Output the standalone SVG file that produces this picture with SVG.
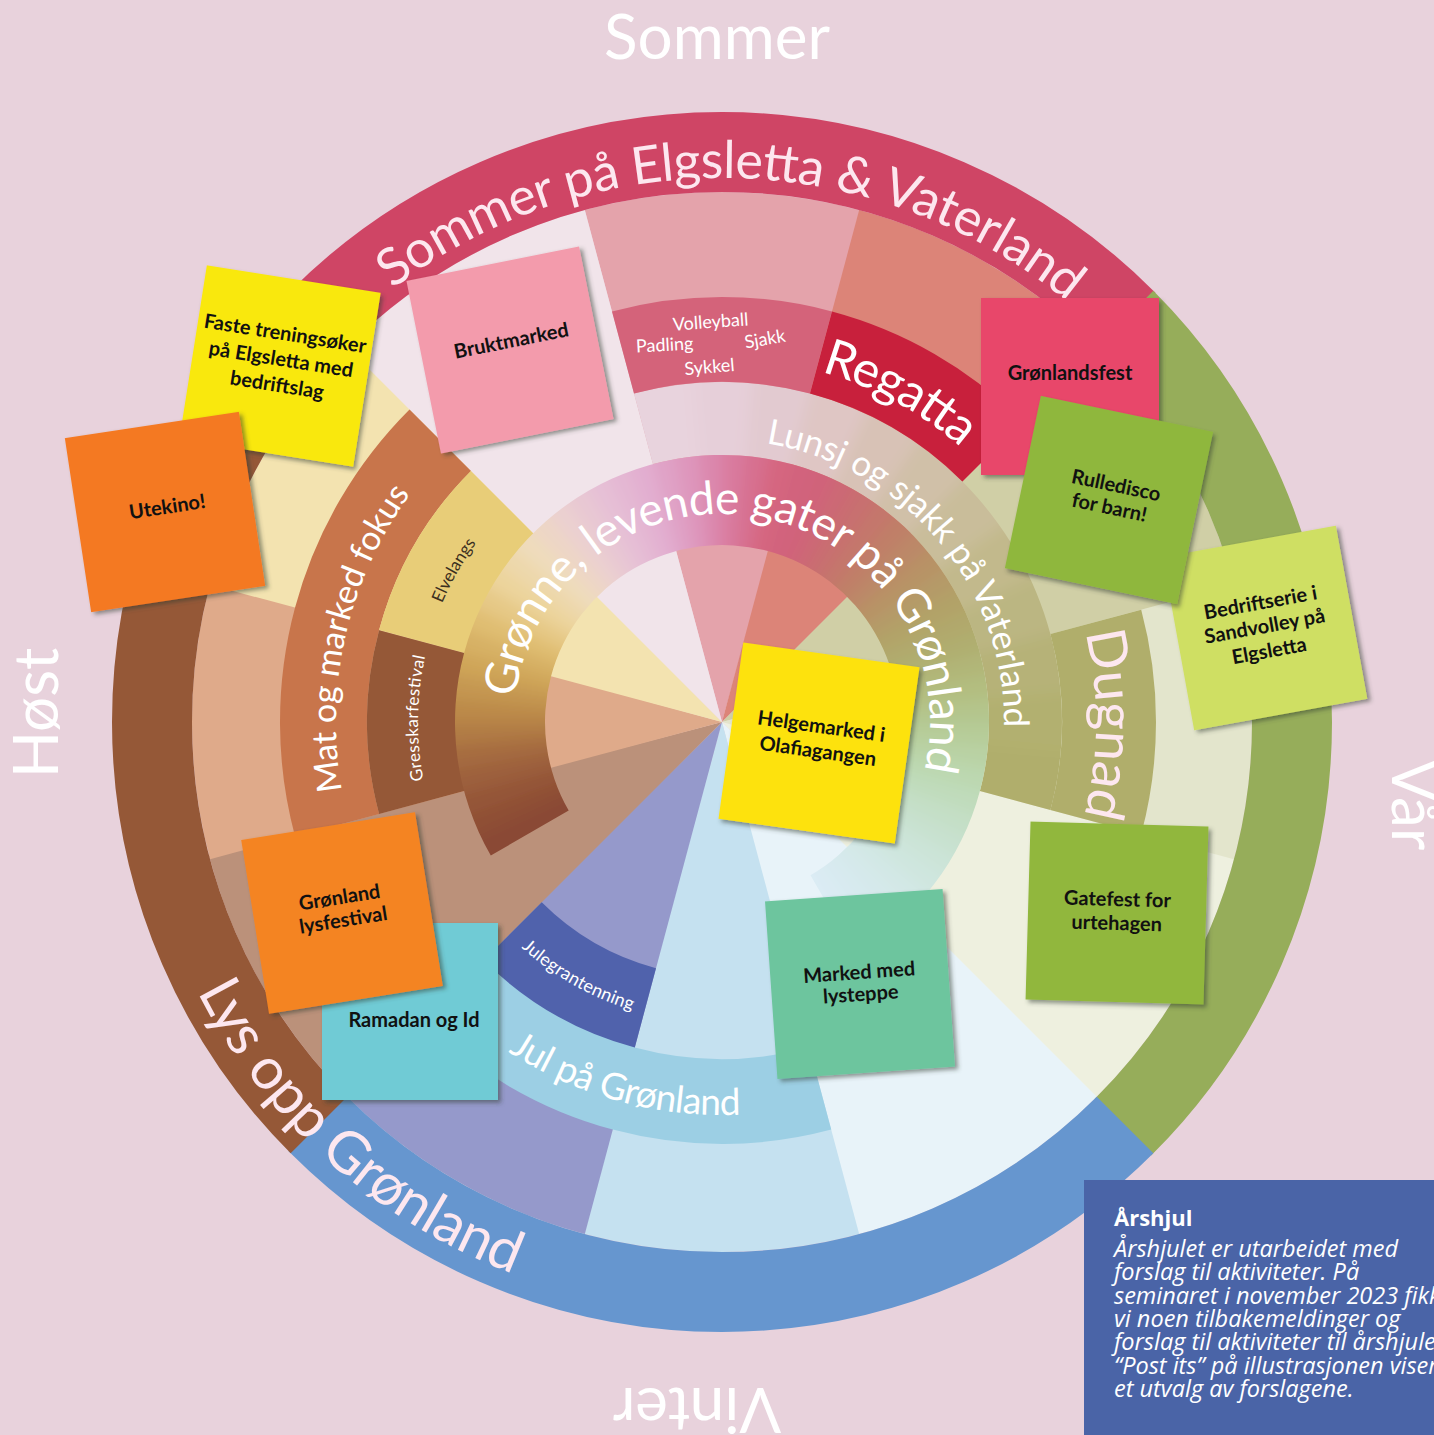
<svg xmlns="http://www.w3.org/2000/svg" width="1434" height="1435" viewBox="0 0 1434 1435">
<style>
.lb{font-family:Lato,"Open Sans","Liberation Sans",sans-serif;fill:#ffffff;text-anchor:middle}
.pk{fill:#fde7ef}
.pt{font-family:Lato,"Open Sans","Liberation Sans",sans-serif;font-weight:700;font-size:20px;fill:#111111;text-anchor:middle}
.ss{font-family:Lato,"Open Sans","Liberation Sans",sans-serif;font-size:62px;fill:#ffffff;text-anchor:middle}
.note{font-family:"Open Sans",Lato,"Liberation Sans",sans-serif;fill:#ffffff}
.w{fill:none;stroke-width:530}
.pi{filter:url(#sh)}
</style>
<defs>
<filter id="sh" x="-15%" y="-15%" width="135%" height="135%"><feDropShadow dx="3" dy="3" stdDeviation="2" flood-color="#2d3b2d" flood-opacity="0.5"/></filter>
<filter id="bl" x="-10%" y="-10%" width="120%" height="120%"><feGaussianBlur stdDeviation="7"/></filter>
<clipPath id="gclip"><path d="M490.8,855.5 A267,267 0 1 1 855.5,953.2 L810.5,875.3 A177,177 0 1 0 568.7,810.5 Z"/></clipPath>
<clipPath id="lclip"><path d="M634,393.6 A340,340 0 0 1 1050.4,810 L979.9,791.1 A267,267 0 0 0 652.9,464.1 Z"/></clipPath>
<circle id="gs" cx="722" cy="722" r="222" fill="none" stroke-width="130" pathLength="360" stroke-dasharray="5.6 354.4"/>
<circle id="ls" cx="722" cy="722" r="303.5" fill="none" stroke-width="113" pathLength="360" stroke-dasharray="10.5 349.5"/>
<path id="c544" d="M722,1266 A544,544 0 1 1 722,178 A544,544 0 1 1 722,1266"/>
<path id="c364" d="M722,1086 A364,364 0 1 1 722,358 A364,364 0 1 1 722,1086"/>
<path id="c386" d="M722,1108 A386,386 0 1 1 722,336 A386,386 0 1 1 722,1108"/>
<path id="c374" d="M722,1096 A374,374 0 1 1 722,348 A374,374 0 1 1 722,1096"/>
<path id="c304" d="M722,1026 A304,304 0 1 1 722,418 A304,304 0 1 1 722,1026"/>
<path id="c282" d="M722,1004 A282,282 0 1 1 722,440 A282,282 0 1 1 722,1004"/>
<path id="c208" d="M722,930 A208,208 0 1 1 722,514 A208,208 0 1 1 722,930"/>
<path id="a590" d="M722,132 A590,590 0 1 0 722,1312 A590,590 0 1 0 722,132"/>
<path id="a302" d="M722,420 A302,302 0 1 0 722,1024 A302,302 0 1 0 722,420"/>
<path id="a393" d="M722,329 A393,393 0 1 0 722,1115 A393,393 0 1 0 722,329"/>
</defs>

<rect x="0" y="0" width="1434" height="1435" fill="#e8d2dc"/>

<g id="season-labels">
<text class="ss" x="717" y="59">Sommer</text>
<text class="ss" transform="translate(58,713) rotate(-90)">Høst</text>
<text class="ss" transform="translate(1392,805) rotate(90)">Vår</text>
<text class="ss" transform="translate(697,1388) rotate(180)">Vinter</text>
</g>

<g id="wedges">
<circle class="w" cx="722" cy="722" r="265" pathLength="360" stroke-dasharray="30.4 329.6" stroke="#e4a3ab" transform="rotate(255 722 722)"/>
<circle class="w" cx="722" cy="722" r="265" pathLength="360" stroke-dasharray="30.4 329.6" stroke="#dc8478" transform="rotate(-75 722 722)"/>
<circle class="w" cx="722" cy="722" r="265" pathLength="360" stroke-dasharray="30.4 329.6" stroke="#d0cfa6" transform="rotate(-45 722 722)"/>
<circle class="w" cx="722" cy="722" r="265" pathLength="360" stroke-dasharray="30.4 329.6" stroke="#e3e5cc" transform="rotate(-15 722 722)"/>
<circle class="w" cx="722" cy="722" r="265" pathLength="360" stroke-dasharray="30.4 329.6" stroke="#eef0df" transform="rotate(15 722 722)"/>
<circle class="w" cx="722" cy="722" r="265" pathLength="360" stroke-dasharray="30.4 329.6" stroke="#e8f3f9" transform="rotate(45 722 722)"/>
<circle class="w" cx="722" cy="722" r="265" pathLength="360" stroke-dasharray="30.4 329.6" stroke="#c5e1f0" transform="rotate(75 722 722)"/>
<circle class="w" cx="722" cy="722" r="265" pathLength="360" stroke-dasharray="30.4 329.6" stroke="#9599cb" transform="rotate(105 722 722)"/>
<circle class="w" cx="722" cy="722" r="265" pathLength="360" stroke-dasharray="30.4 329.6" stroke="#bb917a" transform="rotate(135 722 722)"/>
<circle class="w" cx="722" cy="722" r="265" pathLength="360" stroke-dasharray="30.4 329.6" stroke="#dfaa8a" transform="rotate(165 722 722)"/>
<circle class="w" cx="722" cy="722" r="265" pathLength="360" stroke-dasharray="30.4 329.6" stroke="#f3e3b0" transform="rotate(195 722 722)"/>
<circle class="w" cx="722" cy="722" r="265" pathLength="360" stroke-dasharray="30 330" stroke="#f1e4ea" transform="rotate(225 722 722)"/>
</g>

<g id="season-ring" fill="none" stroke-width="80">
<circle cx="722" cy="722" r="570" pathLength="360" stroke-dasharray="90.3 269.7" stroke="#cf4565" transform="rotate(-135 722 722)"/>
<circle cx="722" cy="722" r="570" pathLength="360" stroke-dasharray="90.3 269.7" stroke="#96ad5a" transform="rotate(-45 722 722)"/>
<circle cx="722" cy="722" r="570" pathLength="360" stroke-dasharray="90.3 269.7" stroke="#6696cf" transform="rotate(45 722 722)"/>
<circle cx="722" cy="722" r="570" pathLength="360" stroke-dasharray="90 270" stroke="#955837" transform="rotate(135 722 722)"/>
</g>

<g id="band-lunsj" clip-path="url(#lclip)">
<g filter="url(#bl)">
<use href="#ls" stroke="#e8d3dd" transform="rotate(-125 722 722)"/>
<use href="#ls" stroke="#e8d3dd" transform="rotate(-115 722 722)"/>
<use href="#ls" stroke="#e8d3dd" transform="rotate(-105 722 722)"/>
<use href="#ls" stroke="#e6cfd9" transform="rotate(-95 722 722)"/>
<use href="#ls" stroke="#e2cad0" transform="rotate(-85 722 722)"/>
<use href="#ls" stroke="#dfc6c4" transform="rotate(-75 722 722)"/>
<use href="#ls" stroke="#d8c2b6" transform="rotate(-65 722 722)"/>
<use href="#ls" stroke="#d0c0a8" transform="rotate(-55 722 722)"/>
<use href="#ls" stroke="#c9bd9a" transform="rotate(-45 722 722)"/>
<use href="#ls" stroke="#c2b98c" transform="rotate(-35 722 722)"/>
<use href="#ls" stroke="#bbb682" transform="rotate(-25 722 722)"/>
<use href="#ls" stroke="#b6b278" transform="rotate(-15 722 722)"/>
<use href="#ls" stroke="#b2b070" transform="rotate(-5 722 722)"/>
<use href="#ls" stroke="#b0ae6c" transform="rotate(5 722 722)"/>
<use href="#ls" stroke="#b0ae6b" transform="rotate(15 722 722)"/>
<use href="#ls" stroke="#b0ae6b" transform="rotate(25 722 722)"/>
</g>
</g>

<g id="bands" fill="none">
<circle id="band-volleyball" cx="722" cy="722" r="382.5" stroke-width="85" pathLength="360" stroke-dasharray="30 330" stroke="#d4637a" transform="rotate(255 722 722)"/>
<circle id="band-regatta" cx="722" cy="722" r="382.5" stroke-width="85" pathLength="360" stroke-dasharray="30 330" stroke="#c8203c" transform="rotate(-75 722 722)"/>
<circle id="band-mat" cx="722" cy="722" r="398.5" stroke-width="87" pathLength="360" stroke-dasharray="60 300" stroke="#c8754b" transform="rotate(165 722 722)"/>
<circle id="band-elvelangs" cx="722" cy="722" r="310" stroke-width="90" pathLength="360" stroke-dasharray="30 330" stroke="#e8cd78" transform="rotate(195 722 722)"/>
<circle id="band-gresskar" cx="722" cy="722" r="310" stroke-width="90" pathLength="360" stroke-dasharray="30 330" stroke="#955837" transform="rotate(165 722 722)"/>
<circle id="band-dugnad" cx="722" cy="722" r="387" stroke-width="94" pathLength="360" stroke-dasharray="30 330" stroke="#b0ae6b" transform="rotate(-15 722 722)"/>
<circle id="band-julegran" cx="722" cy="722" r="297.5" stroke-width="85" pathLength="360" stroke-dasharray="30 330" stroke="#5062ac" transform="rotate(105 722 722)"/>
<circle id="band-jul" cx="722" cy="722" r="379.5" stroke-width="85" pathLength="360" stroke-dasharray="60 300" stroke="#9ccfe4" transform="rotate(75 722 722)"/>
</g>

<g id="band-gronne" clip-path="url(#gclip)">
<g filter="url(#bl)">
<use href="#gs" stroke="#8a4a35" transform="rotate(135 722 722)"/>
<use href="#gs" stroke="#8a4a35" transform="rotate(140 722 722)"/>
<use href="#gs" stroke="#8a4a35" transform="rotate(145 722 722)"/>
<use href="#gs" stroke="#8a4a35" transform="rotate(150 722 722)"/>
<use href="#gs" stroke="#8f5036" transform="rotate(155 722 722)"/>
<use href="#gs" stroke="#955638" transform="rotate(160 722 722)"/>
<use href="#gs" stroke="#9d613c" transform="rotate(165 722 722)"/>
<use href="#gs" stroke="#a66c40" transform="rotate(170 722 722)"/>
<use href="#gs" stroke="#b17b45" transform="rotate(175 722 722)"/>
<use href="#gs" stroke="#bc8a4a" transform="rotate(180 722 722)"/>
<use href="#gs" stroke="#c59751" transform="rotate(185 722 722)"/>
<use href="#gs" stroke="#cfa558" transform="rotate(190 722 722)"/>
<use href="#gs" stroke="#d7b165" transform="rotate(195 722 722)"/>
<use href="#gs" stroke="#e0be72" transform="rotate(200 722 722)"/>
<use href="#gs" stroke="#e6c987" transform="rotate(205 722 722)"/>
<use href="#gs" stroke="#ecd49c" transform="rotate(210 722 722)"/>
<use href="#gs" stroke="#edd8ac" transform="rotate(215 722 722)"/>
<use href="#gs" stroke="#efdcbc" transform="rotate(220 722 722)"/>
<use href="#gs" stroke="#edd6c6" transform="rotate(225 722 722)"/>
<use href="#gs" stroke="#ebd0d0" transform="rotate(230 722 722)"/>
<use href="#gs" stroke="#e8c8d3" transform="rotate(235 722 722)"/>
<use href="#gs" stroke="#e6c0d6" transform="rotate(240 722 722)"/>
<use href="#gs" stroke="#e4b7d3" transform="rotate(245 722 722)"/>
<use href="#gs" stroke="#e2aed0" transform="rotate(250 722 722)"/>
<use href="#gs" stroke="#e0a2c6" transform="rotate(255 722 722)"/>
<use href="#gs" stroke="#de96bc" transform="rotate(260 722 722)"/>
<use href="#gs" stroke="#db88ad" transform="rotate(265 722 722)"/>
<use href="#gs" stroke="#d97a9e" transform="rotate(270 722 722)"/>
<use href="#gs" stroke="#d7708f" transform="rotate(275 722 722)"/>
<use href="#gs" stroke="#d56680" transform="rotate(280 722 722)"/>
<use href="#gs" stroke="#d2647d" transform="rotate(285 722 722)"/>
<use href="#gs" stroke="#d0637a" transform="rotate(290 722 722)"/>
<use href="#gs" stroke="#cc6975" transform="rotate(295 722 722)"/>
<use href="#gs" stroke="#c87070" transform="rotate(300 722 722)"/>
<use href="#gs" stroke="#c4776c" transform="rotate(305 722 722)"/>
<use href="#gs" stroke="#c07f68" transform="rotate(310 722 722)"/>
<use href="#gs" stroke="#bc8867" transform="rotate(315 722 722)"/>
<use href="#gs" stroke="#b89266" transform="rotate(320 722 722)"/>
<use href="#gs" stroke="#b59a67" transform="rotate(325 722 722)"/>
<use href="#gs" stroke="#b2a268" transform="rotate(330 722 722)"/>
<use href="#gs" stroke="#b1a86c" transform="rotate(335 722 722)"/>
<use href="#gs" stroke="#b0ae70" transform="rotate(340 722 722)"/>
<use href="#gs" stroke="#b1b678" transform="rotate(345 722 722)"/>
<use href="#gs" stroke="#b3be80" transform="rotate(350 722 722)"/>
<use href="#gs" stroke="#b4c58c" transform="rotate(355 722 722)"/>
<use href="#gs" stroke="#b6cc98" transform="rotate(360 722 722)"/>
<use href="#gs" stroke="#b9d2a4" transform="rotate(365 722 722)"/>
<use href="#gs" stroke="#bcd8b0" transform="rotate(370 722 722)"/>
<use href="#gs" stroke="#c0dbbb" transform="rotate(375 722 722)"/>
<use href="#gs" stroke="#c4dfc6" transform="rotate(380 722 722)"/>
<use href="#gs" stroke="#c8e1cf" transform="rotate(385 722 722)"/>
<use href="#gs" stroke="#cce4d8" transform="rotate(390 722 722)"/>
<use href="#gs" stroke="#cfe6df" transform="rotate(395 722 722)"/>
<use href="#gs" stroke="#d3e8e6" transform="rotate(400 722 722)"/>
<use href="#gs" stroke="#d5e9eb" transform="rotate(405 722 722)"/>
<use href="#gs" stroke="#d8eaf0" transform="rotate(410 722 722)"/>
<use href="#gs" stroke="#daebf3" transform="rotate(415 722 722)"/>
<use href="#gs" stroke="#dcecf6" transform="rotate(420 722 722)"/>
<use href="#gs" stroke="#dcecf6" transform="rotate(425 722 722)"/>
<use href="#gs" stroke="#dcecf6" transform="rotate(430 722 722)"/>
</g>
</g>

<g id="ring-labels">
<text class="lb pk" font-size="52"><textPath href="#c544" startOffset="50.3%" textLength="728" lengthAdjust="spacing">Sommer på Elgsletta &amp; Vaterland</textPath></text>
<text class="lb pk" font-size="58"><textPath href="#a590" startOffset="38.4%" textLength="433" lengthAdjust="spacing">Lys opp Grønland</textPath></text>
<text class="lb" font-size="50"><textPath href="#c364" startOffset="57.9%" textLength="160" lengthAdjust="spacing">Regatta</textPath></text>
<text class="lb" font-size="34"><textPath href="#c386" startOffset="28.6%" textLength="313" lengthAdjust="spacing">Mat og marked fokus</textPath></text>
<text class="lb pk" font-size="54"><textPath href="#c374" startOffset="75.1%" textLength="185" lengthAdjust="spacing">Dugnad</textPath></text>
<text class="lb" font-size="17" style="fill:#3b2f1e"><textPath href="#c304" startOffset="33.2%">Elvelangs</textPath></text>
<text class="lb" font-size="17"><textPath href="#c304" startOffset="25.2%" textLength="125" lengthAdjust="spacing">Gresskarfestival</textPath></text>
<text class="lb" font-size="35"><textPath href="#c282" startOffset="63.9%" textLength="404" lengthAdjust="spacing">Lunsj og sjakk på Vaterland</textPath></text>
<text class="lb" font-size="46"><textPath href="#c208" startOffset="52.8%" textLength="678" lengthAdjust="spacing">Grønne, levende gater på Grønland</textPath></text>
<text class="lb" font-size="18"><textPath href="#a302" startOffset="41.8%" textLength="128" lengthAdjust="spacing">Julegrantenning</textPath></text>
<text class="lb" font-size="37"><textPath href="#a393" startOffset="45.8%" textLength="245" lengthAdjust="spacing">Jul på Grønland</textPath></text>
<text class="lb" font-size="18" transform="translate(711,328) rotate(-4)">Volleyball</text>
<text class="lb" font-size="18" transform="translate(665,351) rotate(-3)">Padling</text>
<text class="lb" font-size="18" transform="translate(766,345) rotate(-10)">Sjakk</text>
<text class="lb" font-size="18" transform="translate(710,373) rotate(-5)">Sykkel</text>
</g>

<g id="postit-faste" transform="translate(280,366) rotate(9)">
<rect class="pi" x="-88" y="-88" width="176" height="176" fill="#f9e80c"/>
<text class="pt" y="-26">Faste treningsøker</text>
<text class="pt" y="0">på Elgsletta med</text>
<text class="pt" y="26">bedriftslag</text>
</g>
<g id="postit-utekino" transform="translate(165,512) rotate(-8.6)">
<rect class="pi" x="-88" y="-88" width="176" height="176" fill="#f47920"/>
<text class="pt" x="3" y="2">Utekino!</text>
</g>
<g id="postit-bruktmarked" transform="translate(510,350) rotate(-11.3)">
<rect class="pi" x="-88" y="-88" width="176" height="176" fill="#f39bac"/>
<text class="pt" x="3" y="-2">Bruktmarked</text>
</g>
<g id="postit-gronlandsfest" transform="translate(1070,386)">
<rect class="pi" x="-89" y="-88" width="178" height="177" fill="#e8476b"/>
<text class="pt" y="-6">Grønlandsfest</text>
</g>
<g id="postit-bedriftserie" transform="translate(1265,628) rotate(-10.3)">
<rect class="pi" x="-88" y="-88" width="176" height="176" fill="#cfdf64"/>
<text class="pt" y="-19">Bedriftserie i</text>
<text class="pt" y="5">Sandvolley på</text>
<text class="pt" y="30">Elgsletta</text>
</g>
<g id="postit-rulledisco" transform="translate(1109,500) rotate(11.8)">
<rect class="pi" x="-88" y="-88" width="176" height="176" fill="#8fb73c"/>
<text class="pt" x="4" y="-9">Rulledisco</text>
<text class="pt" x="2" y="14">for barn!</text>
</g>
<g id="postit-helgemarked" transform="translate(819,743) rotate(8)">
<rect class="pi" x="-89" y="-89" width="178" height="178" fill="#fde20a"/>
<text class="pt" y="-10">Helgemarked i</text>
<text class="pt" y="15">Olafiagangen</text>
</g>
<g id="postit-gatefest" transform="translate(1117,913) rotate(1.6)">
<rect class="pi" x="-89" y="-89" width="178" height="178" fill="#91b73e"/>
<text class="pt" y="-7">Gatefest for</text>
<text class="pt" y="17">urtehagen</text>
</g>
<g id="postit-marked" transform="translate(860,984) rotate(-4)">
<rect class="pi" x="-89" y="-89" width="178" height="178" fill="#6dc59e"/>
<text class="pt" y="-5">Marked med</text>
<text class="pt" y="17">lysteppe</text>
</g>
<g id="postit-ramadan" transform="translate(410,1011)">
<rect class="pi" x="-88" y="-88" width="176" height="177" fill="#6fcbd5"/>
<text class="pt" x="4" y="16">Ramadan og Id</text>
</g>
<g id="postit-lysfestival" transform="translate(342,913) rotate(-9.1)">
<rect class="pi" x="-88" y="-88" width="176" height="176" fill="#f48420"/>
<text class="pt" y="-9">Grønland</text>
<text class="pt" y="14">lysfestival</text>
</g>

<g id="info-box">
<rect x="1084" y="1180" width="350" height="255" fill="#4a64a7"/>
<text class="note" x="1114" y="1226" font-size="22" font-weight="700">Årshjul</text>
<text class="note" font-size="23.5" font-style="italic">
<tspan x="1114" y="1257">Årshjulet er utarbeidet med</tspan>
<tspan x="1114" y="1280">forslag til aktiviteter. På</tspan>
<tspan x="1114" y="1304">seminaret i november 2023 fikk</tspan>
<tspan x="1114" y="1327">vi noen tilbakemeldinger og</tspan>
<tspan x="1114" y="1350">forslag til aktiviteter til årshjulet.</tspan>
<tspan x="1114" y="1374">“Post its” på illustrasjonen viser</tspan>
<tspan x="1114" y="1397">et utvalg av forslagene.</tspan>
</text>
</g>
</svg>
